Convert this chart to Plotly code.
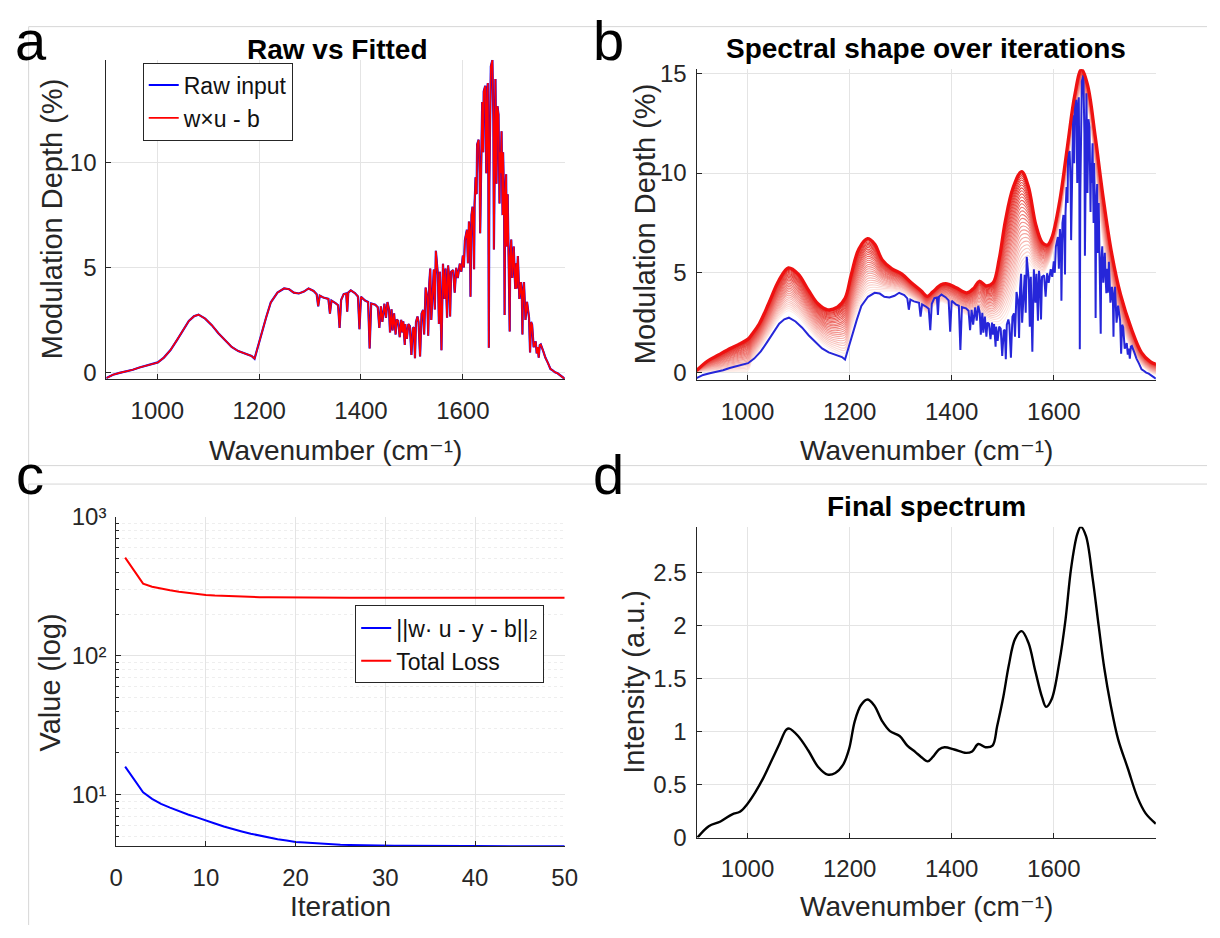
import plotly.graph_objects as go
import numpy as np

W, H = 1220, 938
def px(x): return x / W
def py(y): return 1 - y / H

FONT = "Liberation Sans, Arial, Helvetica, DejaVu Sans, sans-serif"
AX = "#262626"
GRID = "#e4e4e4"

# ---------------- data ----------------
# Raw spectrum (panels a, b): wavenumber (cm-1) and modulation depth (%)
raw_wn = [900, 913, 926, 939, 952, 965, 978, 991, 1001, 1013, 1026, 1039, 1052, 1062, 1072, 1081,
          1094, 1107, 1120, 1133, 1146, 1159, 1172, 1185, 1191, 1196, 1204, 1214, 1223, 1236, 1249,
          1259, 1268, 1278, 1288, 1297, 1307, 1313, 1316, 1319, 1326, 1336, 1339, 1342, 1350, 1355,
          1358, 1361, 1366, 1371, 1373, 1375, 1380, 1388, 1394, 1397, 1400, 1408, 1414, 1417, 1420,
          1428, 1433, 1436,
          1439, 1442, 1446, 1449, 1452, 1455, 1457, 1460, 1462, 1465, 1468, 1470, 1473, 1476, 1479,
          1481, 1483, 1486, 1487, 1490, 1493, 1496, 1499, 1502, 1504, 1506, 1508, 1511, 1513, 1516,
          1519, 1522, 1524, 1527, 1530, 1532, 1534, 1536, 1538, 1540, 1543, 1545, 1547, 1551, 1553,
          1555, 1558, 1561, 1564, 1566, 1569, 1571, 1573, 1575, 1577, 1581, 1584, 1587, 1590, 1594,
          1597, 1600, 1602, 1604, 1608, 1610, 1612, 1614, 1615, 1617, 1619, 1621, 1622, 1623, 1625,
          1627, 1628, 1631, 1633, 1634, 1636, 1638, 1640, 1641, 1644, 1646, 1648, 1649, 1650, 1651,
          1652, 1653, 1655, 1658, 1660, 1661, 1662, 1664, 1666, 1668, 1670, 1671, 1672, 1673, 1674,
          1676, 1678, 1679, 1681, 1682, 1683, 1685, 1686, 1688, 1690, 1692, 1693, 1695, 1697, 1700,
          1702, 1703, 1705, 1706, 1708, 1711, 1714, 1716, 1717, 1718, 1720, 1723, 1726, 1730, 1732,
          1734, 1736, 1739, 1743, 1745, 1747, 1749, 1751, 1753, 1758, 1762, 1767, 1772, 1777, 1781,
          1786, 1791, 1796, 1800]
raw_md = [-0.28, -0.12, -0.03, 0.03, 0.12, 0.23, 0.31, 0.39, 0.47, 0.70, 1.06, 1.55, 2.05, 2.45, 2.67, 2.75,
          2.56, 2.25, 1.86, 1.52, 1.21, 1.01, 0.90, 0.78, 0.65, 1.09, 1.86, 2.64, 3.34, 3.80, 4.00,
          3.96, 3.80, 3.76, 3.85, 4.00, 3.88, 3.72, 3.15, 3.66, 3.57, 3.50, 2.80, 3.42, 3.30, 3.20,
          2.12, 3.45, 3.73, 3.76, 2.89, 3.80, 3.91, 3.78, 3.62, 2.05, 3.60, 3.42, 3.35, 1.13, 3.28,
          3.22, 3.10, 2.12,
          3.15, 2.40, 3.27, 2.60, 3.35, 3.00, 1.90, 3.00, 2.00, 2.81, 1.80, 2.51, 2.45, 1.67, 2.50,
          1.90, 2.43, 1.30, 2.30, 1.59, 2.30, 2.20, 0.83, 2.10, 2.15, 0.67, 2.40, 2.66, 2.40, 0.75,
          2.80, 2.97, 1.80, 4.04, 3.60, 1.74, 4.20, 4.95, 2.50, 3.73, 4.90, 3.00, 5.80, 4.65, 2.30,
          4.80, 1.05, 5.18, 3.50, 4.95, 2.60, 5.10, 4.60, 2.66, 4.80, 4.88, 3.80, 4.98, 4.50, 5.18,
          4.80, 5.57, 5.00, 6.30, 6.80, 5.20, 7.19, 6.50, 3.60, 7.50, 7.90, 6.50, 4.92, 8.00, 9.30,
          8.50, 10.86, 11.10, 9.50, 6.64, 11.50, 12.90, 10.50, 13.40, 13.67, 9.50, 13.50, 13.80, 10.00, 1.17,
          9.00, 12.00, 14.60, 14.90, 12.00, 5.86, 11.00, 14.00, 9.00, 12.70, 12.30, 10.50, 8.05, 10.50, 9.50,
          11.50, 7.50, 10.50, 8.00, 2.73, 8.00, 9.45, 6.00, 8.50, 6.00, 1.95, 5.50, 6.33, 4.50, 6.00,
          4.50, 3.98, 5.20, 4.00, 5.55, 3.50, 4.30, 3.50, 1.80, 3.80, 4.30, 2.50, 3.36, 2.60, 0.94,
          2.40, 2.27, 1.20, 1.48, 0.90, 1.20, 0.70, 1.30, 1.33, 1.00, 0.70, 0.45, 0.16, 0.08, 0.00,
          -0.05, -0.16, -0.25, -0.31]
assert len(raw_wn) == len(raw_md)
fit_md = raw_md  # w x u - b overlays the raw input almost exactly

# Spectral shape over iterations (panel b): first and final iteration envelopes
iter_wn = [900, 921, 944, 967, 982, 1001, 1008, 1023, 1042, 1061, 1080, 1099, 1119, 1138, 1157, 1176,
           1191, 1203, 1218, 1235, 1249, 1264, 1283, 1302, 1321, 1340, 1352, 1363, 1379, 1391, 1409,
           1430, 1444, 1454, 1468, 1481, 1493, 1505, 1520, 1537, 1550, 1565, 1578, 1588, 1596, 1611,
           1627, 1641, 1654, 1666, 1681, 1697, 1713, 1731, 1752, 1772, 1789, 1800]
iter_final_md = [0.10, 0.57, 0.90, 1.22, 1.40, 1.68, 1.90, 2.45, 3.50, 4.60, 5.25, 4.95, 4.15, 3.45, 3.15, 3.28,
                 3.72, 4.90, 6.20, 6.72, 6.45, 5.65, 5.20, 4.95, 4.50, 4.10, 3.82, 4.05, 4.40, 4.45, 4.25,
                 4.00, 4.25, 4.58, 4.35, 4.50, 5.70, 7.60, 9.25, 10.08, 9.35, 7.40, 6.50, 6.40, 6.75, 8.52,
                 11.40, 13.90, 15.20, 14.45, 11.90, 8.75, 6.05, 3.90, 2.20, 1.00, 0.55, 0.42]
iter_first_md = [0.05, 0.05, 0.05, 0.06, 0.07, 0.10, 0.55, 1.12, 1.90, 2.68, 3.10, 2.80, 2.20, 1.65, 1.25, 0.98,
                 0.84, 2.05, 3.25, 3.95, 4.05, 4.08, 4.08, 4.02, 3.75, 3.40, 3.00, 3.30, 3.55, 3.45, 3.25,
                 2.90, 2.90, 2.90, 2.65, 2.48, 2.42, 2.70, 3.70, 5.10, 5.50, 5.05, 4.95, 5.35, 5.90, 7.50,
                 10.30, 12.90, 13.90, 13.30, 10.40, 6.50, 4.30, 2.55, 1.15, 0.38, 0.02, -0.10]

# Loss curves (panel c)
iterations = list(range(1, 51))
loss_resid = [15.96, 12.9, 10.4, 9.33, 8.6, 8.07, 7.6, 7.2, 6.87, 6.5,
              6.2, 5.9, 5.63, 5.44, 5.24, 5.07, 4.9, 4.78, 4.68, 4.57,
              4.52, 4.47, 4.43, 4.40, 4.37, 4.35, 4.33, 4.32, 4.31, 4.30,
              4.29, 4.29, 4.28, 4.28, 4.28, 4.27, 4.27, 4.27, 4.27, 4.27,
              4.26, 4.26, 4.26, 4.26, 4.26, 4.26, 4.26, 4.26, 4.26, 4.26]
loss_total = [511, 408, 332, 315, 305, 297, 290, 284, 279, 275,
              272, 270, 268, 267, 266, 265, 264.5, 264, 263.7, 263.5,
              263.3, 263.1, 263.0, 262.9, 262.8, 262.7, 262.7, 262.6, 262.6, 262.6,
              262.5, 262.5, 262.5, 262.5, 262.5, 262.5, 262.5, 262.5, 262.5, 262.5,
              262.5, 262.5, 262.5, 262.5, 262.5, 262.5, 262.5, 262.5, 262.5, 262.5]

# Final spectrum (panel d)
final_wn = [902, 924, 947, 970, 985, 1000, 1015, 1031, 1046, 1061, 1076, 1082, 1099, 1119, 1138, 1157,
            1172, 1187, 1199, 1210, 1222, 1235, 1248, 1264, 1279, 1298, 1313, 1329, 1340, 1353, 1363,
            1375, 1386, 1405, 1428, 1440, 1452, 1466, 1480, 1489, 1501, 1512, 1524, 1537, 1550, 1564,
            1577, 1585, 1596, 1611, 1623, 1634, 1646, 1653, 1663, 1676, 1688, 1699, 1711, 1726, 1745,
            1764, 1780, 1800]
final_int = [0.00, 0.107, 0.152, 0.22, 0.244, 0.32, 0.427, 0.564, 0.716, 0.869, 1.02, 1.03, 0.96, 0.823, 0.67, 0.595,
             0.61, 0.686, 0.838, 1.098, 1.25, 1.305, 1.25, 1.098, 1.006, 0.96, 0.869, 0.808, 0.762, 0.72, 0.762,
             0.832, 0.854, 0.832, 0.80, 0.814, 0.884, 0.854, 0.869, 1.052, 1.326, 1.63, 1.875, 1.95, 1.845, 1.57,
             1.326, 1.235, 1.31, 1.66, 2.06, 2.546, 2.866, 2.936, 2.85, 2.454, 2.0, 1.60, 1.265, 0.93, 0.655,
             0.38, 0.229, 0.131]

# ---------------- figure ----------------
fig = go.Figure()

# panel a
fig.add_trace(go.Scatter(x=raw_wn, y=raw_md, mode="lines", name="Raw input",
                         line=dict(color="#0000FF", width=2.2), xaxis="x", yaxis="y", legend="legend"))
fig.add_trace(go.Scatter(x=raw_wn, y=fit_md, mode="lines", name="w\u00d7u - b",
                         line=dict(color="#FF0000", width=1.6), xaxis="x", yaxis="y", legend="legend"))

# panel b: iteration band
lo = np.array(iter_first_md)
hi = np.array(iter_final_md)
K = 30
for k in range(K):
    s = k / (K - 1)
    p = 1 - (1 - s) ** 1.4
    r = int(255 - 27 * p)
    g = int(238 - 200 * p)
    b = int(232 - 200 * p)
    fig.add_trace(go.Scatter(x=iter_wn, y=lo + p * (hi - lo), mode="lines", showlegend=False,
                             line=dict(color=f"rgb({r},{g},{b})", width=1.1, shape="spline"),
                             hoverinfo="skip", xaxis="x2", yaxis="y2"))
fig.add_trace(go.Scatter(x=raw_wn, y=raw_md, mode="lines", showlegend=False,
                         line=dict(color="#2626D9", width=2.0), xaxis="x2", yaxis="y2"))
fig.add_trace(go.Scatter(x=iter_wn, y=iter_final_md, mode="lines", showlegend=False,
                         line=dict(color="#EE1111", width=3.2, shape="spline"), xaxis="x2", yaxis="y2"))

# panel c
fig.add_trace(go.Scatter(x=iterations, y=loss_resid, mode="lines", name="||w\u00b7 u - y - b||\u2082",
                         line=dict(color="#0000FF", width=2), xaxis="x3", yaxis="y3", legend="legend2"))
fig.add_trace(go.Scatter(x=iterations, y=loss_total, mode="lines", name="Total Loss",
                         line=dict(color="#FF0000", width=2), xaxis="x3", yaxis="y3", legend="legend2"))

# panel d
fig.add_trace(go.Scatter(x=final_wn, y=final_int, mode="lines", showlegend=False,
                         line=dict(color="#000000", width=2.4, shape="spline"), xaxis="x4", yaxis="y4"))

tickfont = dict(family=FONT, size=24, color=AX)

def xax(domain, anchor, rng, tickvals, ticktext=None):
    d = dict(domain=domain, anchor=anchor, range=rng, tickvals=tickvals, showline=True, linecolor=AX,
             linewidth=1, ticks="inside", ticklen=5, tickcolor=AX, showgrid=True, gridcolor=GRID,
             zeroline=False, tickfont=tickfont, ticklabelstandoff=10, mirror=False)
    if ticktext is not None:
        d["ticktext"] = ticktext
    return d

def yax(domain, anchor, rng, tickvals, ticktext=None, **kw):
    d = dict(domain=domain, anchor=anchor, range=rng, tickvals=tickvals, showline=True, linecolor=AX,
             linewidth=1, ticks="inside", ticklen=5, tickcolor=AX, showgrid=True, gridcolor=GRID,
             zeroline=False, tickfont=tickfont, ticklabelstandoff=4, mirror=False)
    if ticktext is not None:
        d["ticktext"] = ticktext
    d.update(kw)
    return d

wn_ticks = [1000, 1200, 1400, 1600]
minor_vals = [5, 6, 7, 8, 9, 20, 30, 40, 50, 60, 70, 80, 90, 200, 300, 400, 500, 600, 700, 800, 900]

fig.update_layout(
    width=W, height=H, margin=dict(l=0, r=0, t=0, b=0),
    paper_bgcolor="white", plot_bgcolor="white",
    font=dict(family=FONT, color=AX),
    xaxis=xax([px(101), px(567)], "y", [900, 1800], wn_ticks),
    yaxis=yax([py(376), py(47)], "x", [-0.33, 14.92], [0, 5, 10]),
    xaxis2=xax([px(701), px(1168)], "y2", [900, 1800], wn_ticks),
    yaxis2=yax([py(377), py(57)], "x2", [-0.38, 15.2], [0, 5, 10, 15]),
    xaxis3=xax([px(111), px(567)], "y3", [0, 50], [0, 10, 20, 30, 40, 50]),
    yaxis3=yax([py(857), py(518)], "x3", [np.log10(4.25), 3], [10, 100, 1000],
               ["10\u00b9", "10\u00b2", "10\u00b3"], type="log",
               minor=dict(tickvals=minor_vals, ticks="inside", ticklen=3, tickcolor=AX,
                          showgrid=True, gridcolor="#eeeeee", griddash="dot")),
    xaxis4=xax([px(701), px(1168)], "y4", [900, 1800], wn_ticks),
    yaxis4=yax([py(848), py(528)], "x4", [0, 2.936], [0, 0.5, 1, 1.5, 2, 2.5],
               ["0", "0.5", "1", "1.5", "2", "2.5"]),
    legend=dict(x=px(138), y=py(50), xanchor="left", yanchor="top", bgcolor="white",
                bordercolor="#262626", borderwidth=1, font=dict(family=FONT, size=23, color="#111"),
                tracegroupgap=0),
    legend2=dict(x=px(354), y=py(609), xanchor="left", yanchor="top", bgcolor="white",
                 bordercolor="#262626", borderwidth=1, font=dict(family=FONT, size=23, color="#111"),
                 tracegroupgap=0),
    showlegend=True,
)

ann = []
def text(x, y, s, size, bold=False, angle=0, xanchor="center"):
    ann.append(dict(x=px(x), y=py(y), xref="paper", yref="paper", text=(f"<b>{s}</b>" if bold else s),
                    showarrow=False, textangle=angle, xanchor=xanchor, yanchor="middle",
                    font=dict(family=FONT, size=size, color="#000" if bold else AX)))

# titles
text(336, 37, "Raw vs Fitted", 28, bold=True)
text(934.5, 36, "Spectral shape over iterations", 28, bold=True)
text(934.5, 507, "Final spectrum", 28, bold=True)
# axis titles
wn_title = "Wavenumber (cm\u207b\u00b9)"
text(334, 449, wn_title, 28)
text(934.5, 449, wn_title, 28)
text(339, 919, "Iteration", 28)
text(934.5, 919, wn_title, 28)
text(46, 211, "Modulation Depth (%)", 29, angle=-90)
text(648, 216, "Modulation Depth (%)", 29, angle=-90)
text(44, 688, "Value (log)", 29, angle=-90)
text(638, 688, "Intensity (a.u.)", 29, angle=-90)
# panel letters
for lx, ly, s in [(6, 27, "a"), (594, 27, "b"), (7, 474, "c"), (594, 474, "d")]:
    ann.append(dict(x=px(lx), y=py(ly), xref="paper", yref="paper", text=s, showarrow=False,
                    xanchor="left", yanchor="middle", font=dict(family=FONT, size=56, color="#000")))
fig.update_layout(annotations=ann)

# faint panel frame lines
shapes = []
def seg(x0, y0, x1, y1):
    shapes.append(dict(type="line", xref="paper", yref="paper", x0=px(x0), y0=py(y0), x1=px(x1), y1=py(y1),
                       line=dict(color="#d6d6d6", width=1)))
seg(22, 13, 1220, 13)
seg(22, 13, 22, 465)
seg(22, 465, 1220, 465)
seg(22, 484, 1220, 484)
seg(22, 484, 22, 938)
fig.update_layout(shapes=shapes)

fig.write_html("out.html")
